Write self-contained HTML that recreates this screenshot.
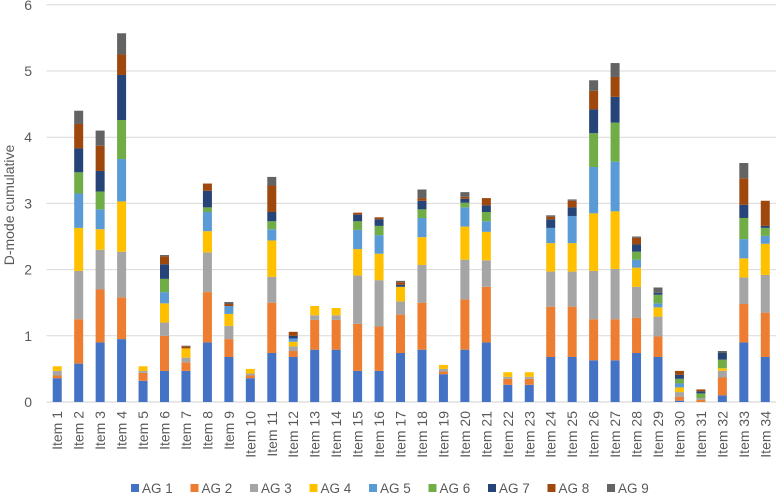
<!DOCTYPE html>
<html><head><meta charset="utf-8">
<style>
html,body{margin:0;padding:0;background:#fff;}
svg{display:block;font-family:"Liberation Sans",sans-serif;}
</style></head>
<body>
<svg id="chart" width="776" height="496" viewBox="0 0 776 496" xmlns="http://www.w3.org/2000/svg">
  <text x="0" y="0" transform="translate(14,205) rotate(-90)" text-anchor="middle" font-size="14" fill="#595959">D-mode cumulative</text>
  <g id="grid"></g>
  <g id="yticks"></g>
  <g id="bars"></g>
  <g id="xlabels"></g>
  <g id="legend"></g>
</svg>
<script>
const categories = Array.from({length:34},(_,i)=>'Item '+(i+1));
const seriesNames = ['AG 1','AG 2','AG 3','AG 4','AG 5','AG 6','AG 7','AG 8','AG 9'];
const colors = ['#4472C4','#ED7D31','#A5A5A5','#FFC000','#5B9BD5','#70AD47','#264478','#9E480E','#636363'];
const yTicks = [0,1,2,3,4,5,6];
const ag1 = [0.36,0.58,0.90,0.95,0.32,0.47,0.47,0.90,0.68,0.36,0.74,0.68,0.79,0.79,0.47,0.47,0.74,0.79,0.42,0.79,0.90,0.26,0.26,0.68,0.68,0.63,0.63,0.74,0.68,0.02,0.00,0.10,0.90,0.68];
const ag2 = [0.04,0.67,0.80,0.63,0.12,0.53,0.13,0.76,0.27,0.04,0.76,0.09,0.45,0.45,0.71,0.67,0.58,0.71,0.04,0.76,0.84,0.09,0.09,0.76,0.76,0.62,0.62,0.53,0.31,0.06,0.03,0.27,0.58,0.67];
const ag3 = [0.07,0.73,0.60,0.69,0.03,0.20,0.07,0.60,0.20,0.03,0.39,0.07,0.07,0.07,0.73,0.70,0.20,0.57,0.04,0.60,0.40,0.03,0.03,0.53,0.53,0.73,0.76,0.47,0.30,0.07,0.03,0.10,0.40,0.57];
const ag4 = [0.07,0.65,0.31,0.76,0.07,0.29,0.14,0.32,0.18,0.07,0.55,0.07,0.14,0.11,0.40,0.40,0.22,0.42,0.06,0.50,0.43,0.07,0.07,0.43,0.43,0.87,0.87,0.29,0.14,0.07,0.00,0.04,0.29,0.47];
const ag5 = [0,0.52,0.30,0.64,0,0.17,0,0.29,0.12,0,0.17,0.05,0,0,0.29,0.28,0,0.29,0,0.29,0.16,0,0,0.23,0.41,0.70,0.75,0.12,0.06,0.06,0,0,0.29,0.12];
const ag6 = [0,0.32,0.27,0.59,0,0.20,0,0.07,0,0,0.12,0,0,0,0.13,0.14,0,0.13,0,0.07,0.14,0,0,0,0,0.51,0.59,0.12,0.13,0.07,0.07,0.13,0.32,0.12];
const ag7 = [0,0.36,0.31,0.68,0,0.22,0,0.25,0,0,0.14,0.04,0,0,0.10,0.10,0.03,0.13,0,0.06,0.10,0,0,0.13,0.13,0.36,0.39,0.11,0.03,0.06,0.03,0.10,0.20,0.03];
const ag8 = [0,0.37,0.38,0.31,0,0.12,0.03,0.11,0.03,0,0.40,0.06,0,0,0.03,0.03,0.04,0.04,0,0.03,0.11,0,0,0.04,0.10,0.28,0.30,0.10,0,0.06,0.03,0,0.40,0.38];
const ag9 = [0,0.20,0.23,0.32,0,0.02,0.01,0,0.03,0,0.13,0,0,0,0,0,0.02,0.13,0,0.07,0,0,0,0.02,0.02,0.16,0.21,0.02,0.08,0,0,0.03,0.23,0];
const series = [ag1,ag2,ag3,ag4,ag5,ag6,ag7,ag8,ag9];

const NS='http://www.w3.org/2000/svg';
const plotL=46.5, plotR=776, y0=402, unit=66.2, catW=(plotR-plotL)/categories.length, barW=9;
function yS(v){return y0 - v*unit;}
function xC(i){return plotL + catW*(i+0.5);}
function mk(tag,parent){const e=document.createElementNS(NS,tag);parent.appendChild(e);return e;}

const grid=document.getElementById('grid');
const yt=document.getElementById('yticks');
yTicks.forEach(t=>{
  const l=mk('line',grid);
  
  
  l.setAttribute('x1',plotL);l.setAttribute('x2',plotR);
  l.setAttribute('y1',yS(t));l.setAttribute('y2',yS(t));
  l.setAttribute('stroke',t===0?'#d0d0d0':'#d9d9d9');l.setAttribute('stroke-width','1');
  const tx=mk('text',yt);
  
  
  tx.setAttribute('x',32);tx.setAttribute('y',yS(t)+5);
  tx.setAttribute('text-anchor','end');tx.setAttribute('font-size','14');tx.setAttribute('fill','#595959');
  tx.textContent=t;
});

const bars=document.getElementById('bars');
categories.forEach((c,i)=>{
  let cum=0;
  series.forEach((s,k)=>{
    const v=s[i]; if(!v) return;
    const r=mk('rect',bars);
    
    
    r.setAttribute('x',xC(i)-barW/2);r.setAttribute('width',barW);
    r.setAttribute('y',yS(cum+v));r.setAttribute('height',v*unit);
    r.setAttribute('fill',colors[k]);
    cum+=v;
  });
});

const xl=document.getElementById('xlabels');
categories.forEach((c,i)=>{
  const t=mk('text',xl);
  
  
  t.setAttribute('transform','translate('+(xC(i)+5)+',411) rotate(-90)');
  t.setAttribute('text-anchor','end');t.setAttribute('font-size','14');t.setAttribute('fill','#595959');
  t.textContent=c;
});

const lg=document.getElementById('legend');
seriesNames.forEach((n,k)=>{
  const x=131+k*59.5;
  const g=mk('g',lg);
  
  
  const r=mk('rect',g);
  
  
  r.setAttribute('x',x);r.setAttribute('y',484);r.setAttribute('width',8);r.setAttribute('height',8);
  r.setAttribute('fill',colors[k]);
  const t=mk('text',g);
  
  
  t.setAttribute('x',x+11);t.setAttribute('y',493);t.setAttribute('font-size','13.5');t.setAttribute('fill','#595959');
  t.textContent=n;
});
</script>
</body></html>
